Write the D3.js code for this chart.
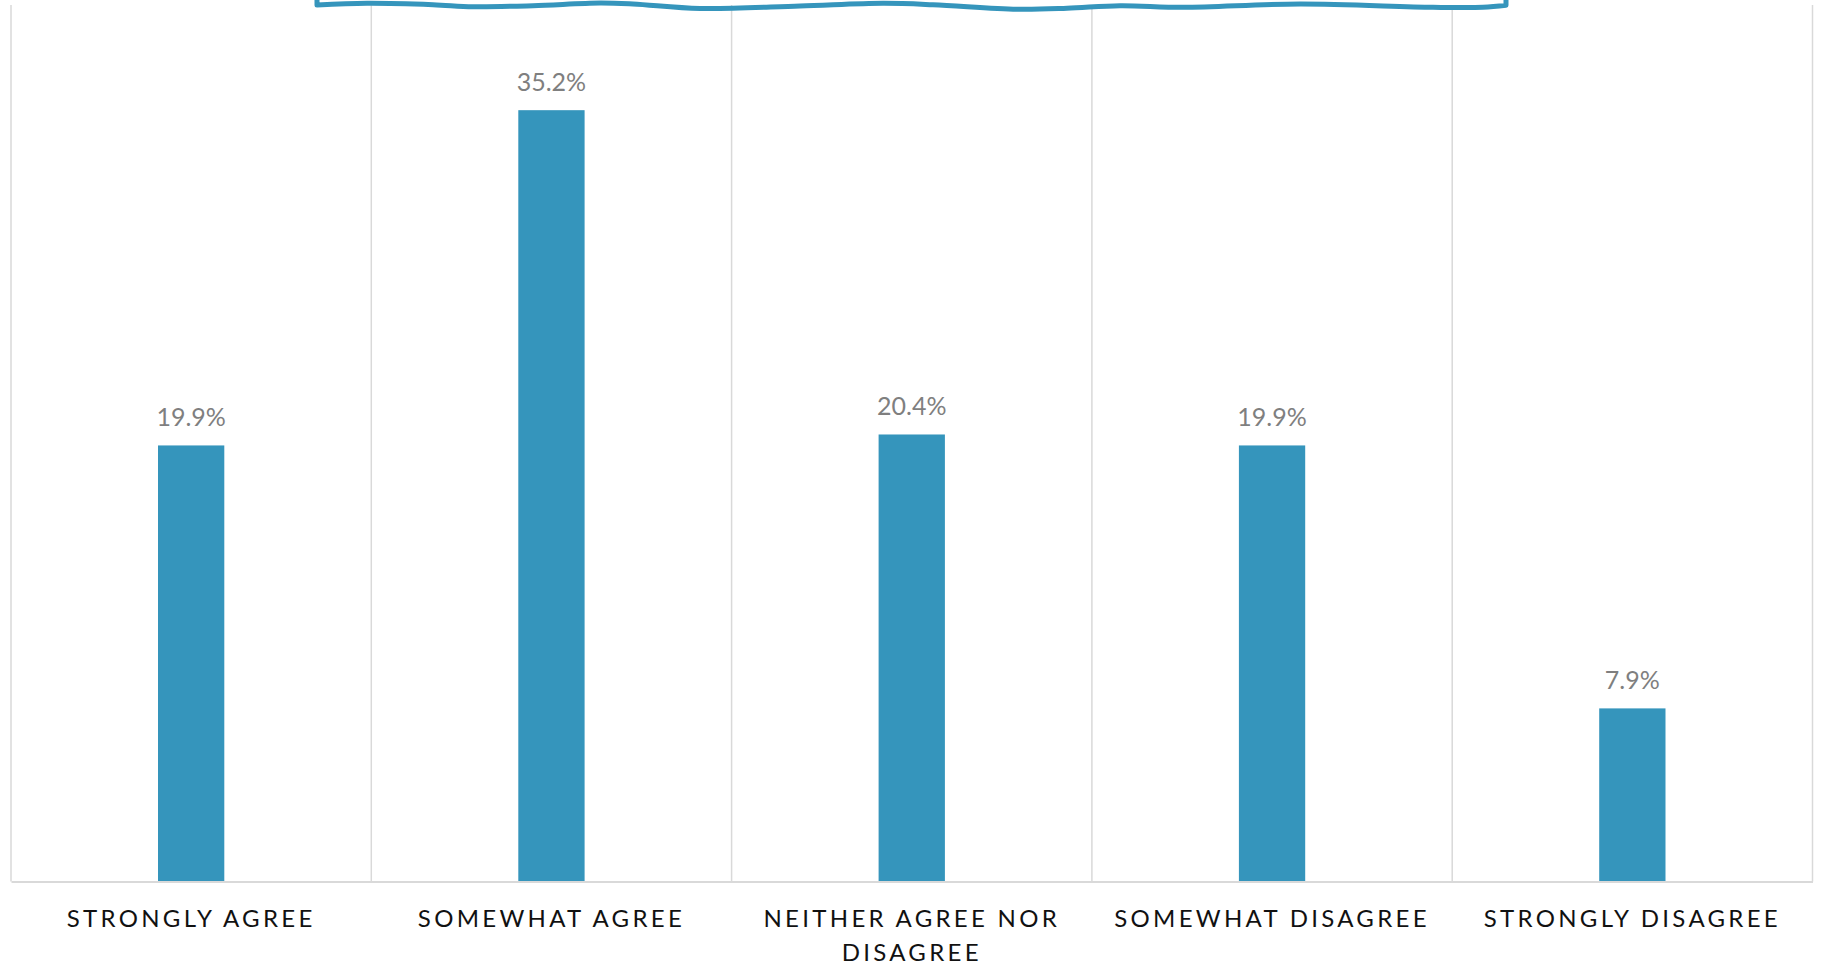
<!DOCTYPE html>
<html>
<head>
<meta charset="utf-8">
<script src="https://cdn.jsdelivr.net/npm/d3@7"></script>
<style>
  html, body { margin: 0; padding: 0; background: #ffffff; overflow: hidden; }
  svg { display: block; }
</style>
</head>
<body>
<svg id="chart" width="1821" height="967"></svg>
<script>
// ---- data ----
const categories = ["Strongly agree", "Somewhat agree", "Neither agree nor disagree", "Somewhat disagree", "Strongly disagree"];
const values = [0.199, 0.352, 0.204, 0.199, 0.079];
const valueLabels = ["19.9%", "35.2%", "20.4%", "19.9%", "7.9%"];
const yMax = 0.40;

// ---- layout ----
const W = 1821, H = 967;
const plot = { left: 11, right: 1812.5, top: 5, bottom: 881.5 };
const barColor = "#3595bc";
const gridColor = "#d9d9d9";

const svg = d3.select("#chart");

const x = d3.scaleBand().domain(categories).range([plot.left, plot.right]).paddingInner(0).paddingOuter(0);
const y = d3.scaleLinear().domain([0, yMax]).range([plot.bottom, plot.top]);
const barW = x.bandwidth() * 0.184;

// vertical gridlines at category boundaries
const bounds = categories.map(c => x(c)).concat([plot.right]);
svg.append("g").selectAll("line").data(bounds).join("line")
  .attr("x1", d => d).attr("x2", d => d)
  .attr("y1", plot.top).attr("y2", plot.bottom)
  .attr("stroke", gridColor).attr("stroke-width", 1.5);

// bars
svg.append("g").selectAll("rect").data(values).join("rect")
  .attr("x", (d, i) => x(categories[i]) + x.bandwidth() / 2 - barW / 2)
  .attr("width", barW)
  .attr("y", d => y(d))
  .attr("height", d => y(0) - y(d))
  .attr("fill", barColor);

// data labels
svg.append("g").selectAll("text").data(values).join("text")
  .attr("x", (d, i) => x(categories[i]) + x.bandwidth() / 2)
  .attr("y", d => y(d) - 19)
  .attr("text-anchor", "middle")
  .attr("font-family", "Lato, 'Noto Sans', sans-serif")
  .attr("font-size", 25)
  .attr("fill", "#7f7f7f")
  .text((d, i) => valueLabels[i]);

// x axis
const xAxis = d3.axisBottom(x).tickSize(0).tickPadding(0).tickSizeOuter(0);
const gx = svg.append("g").attr("transform", `translate(0,${plot.bottom})`).call(xAxis);
gx.select(".domain").attr("stroke", gridColor).attr("stroke-width", 2);
gx.selectAll(".tick text")
  .attr("font-family", "Lato, 'Noto Sans', sans-serif")
  .attr("font-size", 24)
  .attr("fill", "#111")
  .attr("letter-spacing", "3.3px")
  .attr("dy", null)
  .attr("y", 0)
  .each(function(d) {
    const t = d3.select(this);
    const words = d.toUpperCase().split(" ");
    t.text(null);
    const maxW = x.bandwidth() - 20;
    let lines = [], line = [];
    const tmp = t.append("tspan");
    words.forEach(w => {
      line.push(w);
      tmp.text(line.join(" "));
      if (tmp.node().getComputedTextLength() > maxW && line.length > 1) {
        line.pop();
        lines.push(line.join(" "));
        line = [w];
      }
    });
    lines.push(line.join(" "));
    tmp.remove();
    lines.forEach((l, i) => {
      t.append("tspan").attr("x", 0).attr("y", 45 + i * 34).text(l);
    });
  });

// decorative wavy callout edge at top (annotation shape, clipped by the page top)
const wavePts = [[317,5],[367,3.3],[433,4.7],[473,6.7],[533,5.7],[600,3],[633,4],[700,8.5],
  [800,6],[883,3.3],[933,4.7],[1017,9.3],[1067,8.3],[1120,5.7],[1183,7.3],[1300,4],[1433,7.3],[1483,7.3],[1506,5.3]];
const inner = d3.line().curve(d3.curveCatmullRom.alpha(0.5))(wavePts);
svg.append("path")
  .attr("d", "M317,-20L" + inner.slice(1) + "L1506,-20")
  .attr("fill", "none")
  .attr("stroke", barColor)
  .attr("stroke-width", 5)
  .attr("stroke-linejoin", "round");
</script>
</body>
</html>
